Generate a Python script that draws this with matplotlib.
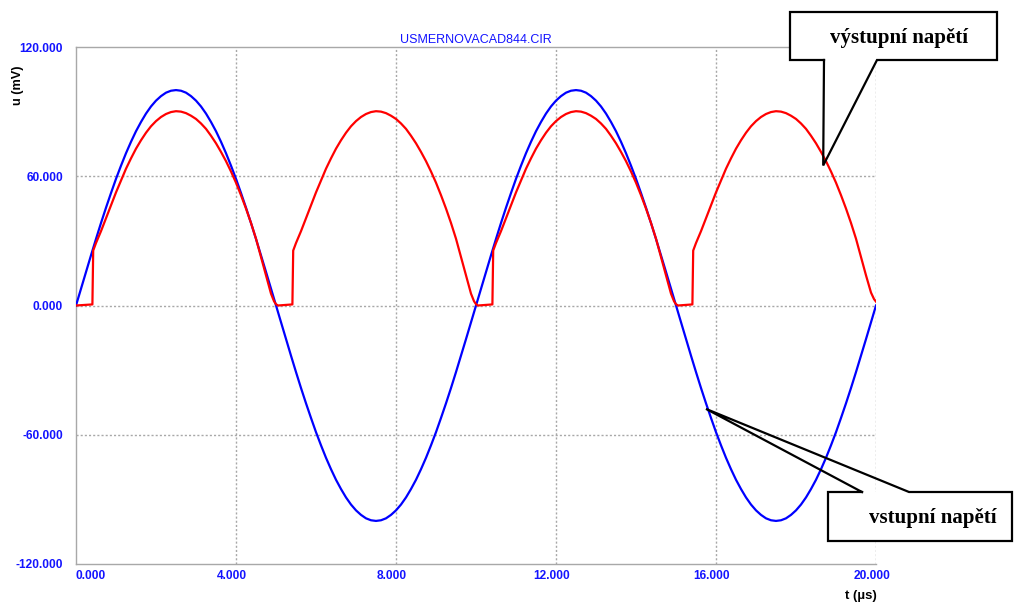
import numpy as np
import matplotlib
matplotlib.use("Agg")
import matplotlib.pyplot as plt
from matplotlib.lines import Line2D
from matplotlib.patches import Rectangle
from matplotlib.transforms import ScaledTranslation

# ---------------- data ----------------
title = "USMERNOVACAD844.CIR"
x_label = "t (µs)"
y_label = "u (mV)"
x_ticks = [0, 4, 8, 12, 16, 20]
y_ticks = [-120, -60, 0, 60, 120]

# input voltage (blue), sampled every 0.125 µs
blue_t = np.linspace(0, 20, 161)
blue_v = [0.0, 7.8, 15.6, 23.3, 30.9, 38.3, 45.4, 52.2, 58.8, 64.9,
          70.7, 76.0, 80.9, 85.2, 89.1, 92.4, 95.1, 97.2, 98.8, 99.7,
          100.0, 99.7, 98.8, 97.2, 95.1, 92.4, 89.1, 85.2, 80.9, 76.0,
          70.7, 64.9, 58.8, 52.2, 45.4, 38.3, 30.9, 23.3, 15.6, 7.8,
          0.0, -7.8, -15.6, -23.3, -30.9, -38.3, -45.4, -52.2, -58.8, -64.9,
          -70.7, -76.0, -80.9, -85.2, -89.1, -92.4, -95.1, -97.2, -98.8, -99.7,
          -100.0, -99.7, -98.8, -97.2, -95.1, -92.4, -89.1, -85.2, -80.9, -76.0,
          -70.7, -64.9, -58.8, -52.2, -45.4, -38.3, -30.9, -23.3, -15.6, -7.8,
          0.0, 7.8, 15.6, 23.3, 30.9, 38.3, 45.4, 52.2, 58.8, 64.9,
          70.7, 76.0, 80.9, 85.2, 89.1, 92.4, 95.1, 97.2, 98.8, 99.7,
          100.0, 99.7, 98.8, 97.2, 95.1, 92.4, 89.1, 85.2, 80.9, 76.0,
          70.7, 64.9, 58.8, 52.2, 45.4, 38.3, 30.9, 23.3, 15.6, 7.8,
          0.0, -7.8, -15.6, -23.3, -30.9, -38.3, -45.4, -52.2, -58.8, -64.9,
          -70.7, -76.0, -80.9, -85.2, -89.1, -92.4, -95.1, -97.2, -98.8, -99.7,
          -100.0, -99.7, -98.8, -97.2, -95.1, -92.4, -89.1, -85.2, -80.9, -76.0,
          -70.7, -64.9, -58.8, -52.2, -45.4, -38.3, -30.9, -23.3, -15.6, -7.8,
          0.0]

# output voltage (red)
red_t = [0.00, 0.41, 0.43, 0.500, 0.625, 0.750, 0.875, 1.000, 1.125, 1.250, 1.375,
         1.500, 1.625, 1.750, 1.875, 2.000, 2.125, 2.250, 2.375, 2.500, 2.625,
         2.750, 2.875, 3.000, 3.125, 3.250, 3.375, 3.500, 3.625, 3.750, 3.875,
         4.000, 4.125, 4.250, 4.375, 4.500, 4.625, 4.750, 4.875, 4.950, 5.000, 5.050,
         5.41, 5.43, 5.500, 5.625, 5.750, 5.875, 6.000, 6.125, 6.250, 6.375,
         6.500, 6.625, 6.750, 6.875, 7.000, 7.125, 7.250, 7.375, 7.500, 7.625,
         7.750, 7.875, 8.000, 8.125, 8.250, 8.375, 8.500, 8.625, 8.750, 8.875,
         9.000, 9.125, 9.250, 9.375, 9.500, 9.625, 9.750, 9.875, 9.950, 10.000, 10.050,
         10.41, 10.43, 10.500, 10.625, 10.750, 10.875, 11.000, 11.125, 11.250, 11.375,
         11.500, 11.625, 11.750, 11.875, 12.000, 12.125, 12.250, 12.375, 12.500, 12.625,
         12.750, 12.875, 13.000, 13.125, 13.250, 13.375, 13.500, 13.625, 13.750, 13.875,
         14.000, 14.125, 14.250, 14.375, 14.500, 14.625, 14.750, 14.875, 14.950, 15.000, 15.050,
         15.41, 15.43, 15.500, 15.625, 15.750, 15.875, 16.000, 16.125, 16.250, 16.375,
         16.500, 16.625, 16.750, 16.875, 17.000, 17.125, 17.250, 17.375, 17.500, 17.625,
         17.750, 17.875, 18.000, 18.125, 18.250, 18.375, 18.500, 18.625, 18.750, 18.875,
         19.000, 19.125, 19.250, 19.375, 19.500, 19.625, 19.750, 19.875, 19.950, 20.000]
red_v = [0.0, 0.5, 25.5, 29.0, 34.5, 40.5, 46.5, 52.5, 58.0, 63.5, 68.3,
         72.8, 76.7, 80.2, 83.2, 85.6, 87.5, 88.9, 89.8, 90.2, 90.0,
         89.3, 88.1, 86.6, 84.5, 82.0, 78.8, 75.3, 71.3, 67.0, 62.2,
         57.0, 51.2, 45.0, 38.3, 31.0, 22.5, 14.0, 5.5, 2.0, 0.6, 0.0,
         0.5, 25.5, 29.0, 34.5, 40.5, 46.5, 52.5, 58.0, 63.5, 68.3,
         72.8, 76.7, 80.2, 83.2, 85.6, 87.5, 88.9, 89.8, 90.2, 90.0,
         89.3, 88.1, 86.6, 84.5, 82.0, 78.8, 75.3, 71.3, 67.0, 62.2,
         57.0, 51.2, 45.0, 38.3, 31.0, 22.5, 14.0, 5.5, 2.0, 0.6, 0.0,
         0.5, 25.5, 29.0, 34.5, 40.5, 46.5, 52.5, 58.0, 63.5, 68.3,
         72.8, 76.7, 80.2, 83.2, 85.6, 87.5, 88.9, 89.8, 90.2, 90.0,
         89.3, 88.1, 86.6, 84.5, 82.0, 78.8, 75.3, 71.3, 67.0, 62.2,
         57.0, 51.2, 45.0, 38.3, 31.0, 22.5, 14.0, 5.5, 2.0, 0.6, 0.0,
         0.5, 25.5, 29.0, 34.5, 40.5, 46.5, 52.5, 58.0, 63.5, 68.3,
         72.8, 76.7, 80.2, 83.2, 85.6, 87.5, 88.9, 89.8, 90.2, 90.0,
         89.3, 88.1, 86.6, 84.5, 82.0, 78.8, 75.3, 71.3, 67.0, 62.2,
         57.0, 51.2, 45.0, 38.3, 31.0, 22.5, 14.0, 6.0, 3.0, 1.8]

out_label = "výstupní napětí"
in_label = "vstupní napětí"
out_tip = (18.68, 65.0)   # data point the output callout points to
in_tip = (15.75, -48.0)   # data point the input callout points to

# ---------------- figure ----------------
W, H = 1015, 605
fig = plt.figure(figsize=(W / 100, H / 100), dpi=100)
fig.patch.set_facecolor("white")
ax = fig.add_axes([76 / W, 41 / H, 800 / W, 517 / H])
ax.set_facecolor("white")
ax.set_xlim(0, 20)
ax.set_ylim(-120, 120)

grid_c = "#a8a8a8"
for s in ["left", "bottom", "top"]:
    ax.spines[s].set_color(grid_c)
    ax.spines[s].set_linewidth(1.0)
ax.spines["right"].set_visible(False)

ax.set_xticks(x_ticks)
ax.set_yticks(y_ticks)
ax.set_xticklabels(["%.3f" % v for v in x_ticks])
ax.set_yticklabels(["%.3f" % v for v in y_ticks])
ax.tick_params(axis="both", length=0, colors="#1414ff", labelsize=8.6)
ax.tick_params(axis="y", pad=9.3)
ax.tick_params(axis="x", pad=4)
for lab in ax.get_xticklabels() + ax.get_yticklabels():
    lab.set_fontweight("bold")
    lab.set_fontfamily("Liberation Sans")
xl = ax.get_xticklabels()
xl[0].set_horizontalalignment("left")
for lab in xl[1:]:
    lab.set_transform(lab.get_transform() + ScaledTranslation(-0.04, 0, fig.dpi_scale_trans))

# dotted grid
for xv in x_ticks[1:]:
    ax.axvline(xv, color=grid_c, lw=1.0, linestyle=(0, (1.5, 1.5)), zorder=1)
for yv in y_ticks[1:-1]:
    ax.axhline(yv, color=grid_c, lw=1.0, linestyle=(0, (1.5, 1.5)), zorder=1)

ax.plot(blue_t, blue_v, color="#0000ff", lw=1.6, zorder=3)
ax.plot(red_t, red_v, color="#ff0000", lw=1.6, zorder=4)

fig.text(475.5 / W, 1 - 40 / H, title, color="#1414ff", fontsize=9,
         family="Liberation Sans", ha="center", va="center")
fig.text(17.5 / W, 1 - 85 / H, y_label, rotation=90, fontsize=9.2, fontweight="bold",
         family="Liberation Sans", ha="center", va="center")
fig.text(861 / W, 1 - 596 / H, x_label, fontsize=9.5, fontweight="bold",
         family="Liberation Sans", ha="center", va="center")

# ---------------- callouts (pixel overlay) ----------------
ov = fig.add_axes([0, 0, 1, 1], facecolor="none")
ov.set_xlim(0, W)
ov.set_ylim(H, 0)
ov.axis("off")


def tip_px(pt):
    xd, yd = ax.transData.transform(pt)
    return xd, H - yd


# output callout
tx, ty = tip_px(out_tip)
ov.add_patch(Rectangle((790, 12), 207, 48, facecolor="white", edgecolor="none", zorder=5))
ov.add_line(Line2D([824, 790, 790, 997, 997, 877, tx, 824],
                   [60, 60, 12, 12, 60, 60, ty, 60],
                   color="black", lw=1.6, zorder=6, solid_joinstyle="miter"))
ov.text(899, 38, out_label, family="Liberation Serif", fontweight="bold",
        fontsize=15, ha="center", va="center", zorder=7)

# input callout
tx, ty = tip_px(in_tip)
ov.add_patch(Rectangle((828, 492), 184, 49, facecolor="white", edgecolor="none", zorder=5))
ov.add_line(Line2D([862, 828, 828, 1012, 1012, 909, tx, 862],
                   [492, 492, 541, 541, 492, 492, ty, 492],
                   color="black", lw=1.6, zorder=6, solid_joinstyle="miter"))
ov.text(932.5, 518, in_label, family="Liberation Serif", fontweight="bold",
        fontsize=15, ha="center", va="center", zorder=7)

fig.savefig("out.png", dpi=100)
